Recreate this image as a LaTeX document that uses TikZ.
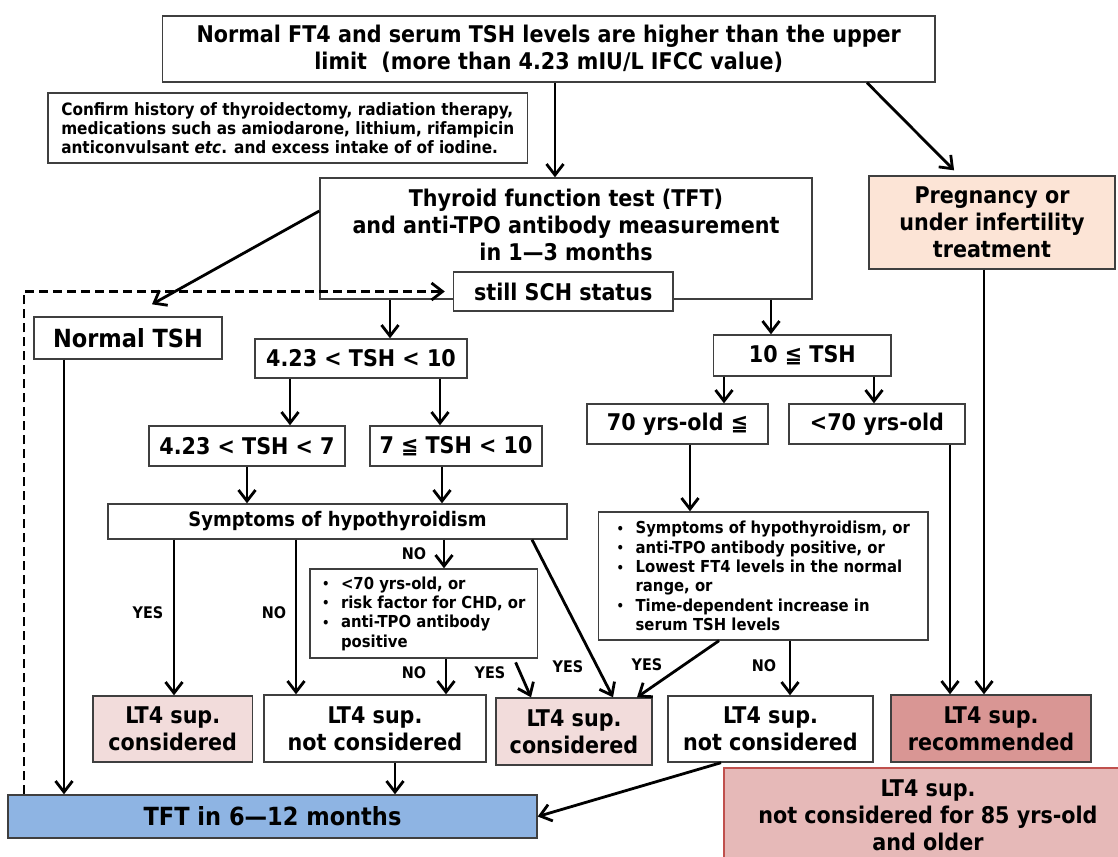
\documentclass[tikz,border=0pt]{standalone}
\usepackage{fontspec}
\setmainfont{DejaVu Sans Condensed}
\usetikzlibrary{arrows.meta,positioning}

\definecolor{boxline}{HTML}{3F3F3F}
\definecolor{peach}{HTML}{FCE4D6}
\definecolor{pinklight}{HTML}{F2DCDB}
\definecolor{pinkmid}{HTML}{E6B9B8}
\definecolor{pinkdark}{HTML}{D99694}
\definecolor{redline}{HTML}{C0504D}
\definecolor{tftblue}{HTML}{8EB4E3}

\newcommand{\fshuge}{\fontsize{25}{29}\selectfont}
\newcommand{\fsbig}{\fontsize{23}{27}\selectfont}
\newcommand{\fsmid}{\fontsize{20}{23}\selectfont}
\newcommand{\fssmall}{\fontsize{16.5}{19.3}\selectfont}
\newcommand{\itm}{\makebox[19pt][l]{\raisebox{0.5pt}{\fontsize{13}{13}\selectfont •}}}
\newcommand{\itmind}{\hspace*{19pt}}

\begin{document}
\begin{tikzpicture}[
    x=1pt, y=-1pt,
    box/.style={draw=boxline, line width=1.4pt, align=center, inner sep=0pt,
        fill=white, font=\bfseries\fsbig},
    arr/.style={line width=2.8pt,
        -{Straight Barb[length=11pt,width=17pt,line width=2.8pt]}},
    dasharr/.style={arr, dash pattern=on 9pt off 5pt},
    lab/.style={font=\bfseries\fontsize{16}{18}\selectfont},
 ]
    \useasboundingbox (0,0) rectangle (1118,856);

    % columns for the vertical connectors
    \foreach \c in {24,64,174,247,290,296,390,395,440,442,444,446,514,531,
        532,555,613,637,690,719,721,724,771,790,867,874,950,959,984}
        \coordinate (v\c) at (\c,0);

    \node[box, minimum width=772.5, minimum height=66] (title) at (548.75,49)
        {Normal FT4 and serum TSH levels are higher than the upper\\
         limit\ \ (more than 4.23 mIU/L IFCC value)};
    \node[box, minimum width=479.5, minimum height=70, align=left,
        font=\bfseries\fontsize{17}{19.3}\selectfont] (confirm) at (287.75,128)
        {Confirm history of thyroidectomy, radiation therapy,\\
         medications such as amiodarone, lithium, rifampicin\\
         anticonvulsant \textit{etc}. and excess intake of of iodine.};

    \node[box, minimum width=492, minimum height=121] (tft) at (566,238.5) {};
    \node[font=\bfseries\fsbig, align=center] (tfttext) at (566,225)
        {Thyroid function test (TFT)\\
         and anti-TPO antibody measurement\\
         in 1—3 months};
    \node[box, minimum width=219.5, minimum height=39] (still) at (563.25,291.5)
        {still SCH status};
    \node[box, fill=peach, minimum width=246, minimum height=93] (preg) at (992,222.5)
        {Pregnancy or\\ under infertility\\ treatment};

    \node[box, font=\bfseries\fshuge, minimum width=188, minimum height=42]
        (normal) at (128,338) {Normal TSH};
    \node[box, minimum width=212, minimum height=39] (mid) at (361,358.5)
        {4.23 < TSH < 10};
    \node[box, minimum width=196, minimum height=40] (low) at (247,446)
        {4.23 < TSH < 7};
    \node[box, minimum width=172, minimum height=40] (hi) at (456,446)
        {7 ≦ TSH < 10};
    \node[box, font=\bfseries\fsmid, minimum width=459, minimum height=35]
        (symp) at (337.5,521.5) {Symptoms of hypothyroidism};
    \node[box, font=\bfseries\fssmall, align=left, minimum width=227.5,
        minimum height=89] (list1) at (423.75,613.5)
        {\itm <70 yrs-old, or\\
         \itm risk factor for CHD, or\\
         \itm anti-TPO antibody\\
         \itmind positive};

    \node[box, minimum width=177.4, minimum height=41] (high) at (802.3,355.5)
        {10 ≦ TSH};
    \node[box, minimum width=181, minimum height=40] (old) at (677.5,424)
        {70 yrs-old ≦};
    \node[box, minimum width=176, minimum height=40] (young) at (877,424)
        {<70 yrs-old};
    \node[box, font=\bfseries\fssmall, align=left, minimum width=329.4,
        minimum height=128] (list2) at (763.3,576)
        {\itm Symptoms of hypothyroidism, or\\
         \itm anti-TPO antibody positive, or\\
         \itm Lowest FT4 levels in the normal\\
         \itmind range, or\\
         \itm Time-dependent increase in\\
         \itmind serum TSH levels};

    \node[box, fill=pinklight, minimum width=159.5, minimum height=66]
        (consA) at (172.75,729) {LT4 sup.\\ considered};
    \node[box, minimum width=222, minimum height=67] (notA) at (375,728.5)
        {LT4 sup.\\ not considered};
    \node[box, fill=pinklight, minimum width=156, minimum height=67]
        (consB) at (574,731.5) {LT4 sup.\\ considered};
    \node[box, minimum width=205, minimum height=66] (notB) at (770.5,729)
        {LT4 sup.\\ not considered};
    \node[box, fill=pinkdark, minimum width=200, minimum height=67]
        (rec) at (991,728.5) {LT4 sup.\\ recommended};
    \node[box, draw=redline, fill=pinkmid, minimum width=408, minimum height=94]
        (old85) at (928,815) {LT4 sup.\\ not considered for 85 yrs-old\\ and older};
    \node[box, fill=tftblue, font=\bfseries\fshuge, minimum width=529,
        minimum height=43] (tftB) at (272.5,816.5) {TFT in 6—12 months};

    \draw[arr] (title.south -| v555) -- (tft.north -| v555);
    \draw[arr, shorten >=7pt] (title.south -| v867) -- (preg.north -| v959);
    \draw[arr] ([yshift=27.5pt]tft.west) -- ([xshift=24pt,yshift=12pt]normal.north);
    \draw[dasharr, shorten >=8pt] (tftB.north -| v24) |- (still.west);
    \draw[arr] (normal.south -| v64) -- (tftB.north -| v64);

    \draw[arr] (tft.south -| v390) -- (mid.north -| v390);
    \draw[arr] (mid.south -| v290) -- (low.north -| v290);
    \draw[arr] (mid.south -| v440) -- (hi.north -| v440);
    \draw[arr] (low.south -| v247) -- (symp.north -| v247);
    \draw[arr] (hi.south -| v442) -- (symp.north -| v442);
    \draw[arr] (symp.south -| v174) -- (consA.north -| v174);
    \draw[arr] (symp.south -| v296) -- (notA.north -| v296);
    \draw[arr] (symp.south -| v444) -- (list1.north -| v444);
    \draw[arr] (symp.south -| v532) -- (consB.north -| v613);
    \draw[arr] (list1.south -| v446) -- (notA.north -| v446);
    \draw[arr, shorten <=4pt] (list1.south -| v514) -- (consB.north -| v531);
    \draw[arr] (notA.south -| v395) -- (tftB.north -| v395);

    \draw[arr] (tft.south -| v771) -- (high.north -| v771);
    \draw[arr] (high.south -| v724) -- (old.north -| v724);
    \draw[arr] (high.south -| v874) -- (young.north -| v874);
    \draw[arr] (old.south -| v690) -- (list2.north -| v690);
    \draw[arr] (list2.south -| v719) -- (consB.north -| v637);
    \draw[arr] (list2.south -| v790) -- (notB.north -| v790);
    \draw[arr] (notB.south -| v721) -- (tftB.east);
    \draw[arr] (young.south -| v950) -- (rec.north -| v950);
    \draw[arr] (preg.south -| v984) -- (rec.north -| v984);

    \node[lab] (yesA) at (148,613) {YES};
    \node[lab] (noA) at (274,613) {NO};
    \node[lab] (noB) at (414,554) {NO};
    \node[lab] (noC) at (414,673) {NO};
    \node[lab] (yesB) at (490,673) {YES};
    \node[lab] (yesC) at (568,667) {YES};
    \node[lab] (yesD) at (647,665) {YES};
    \node[lab] (noD) at (764,666) {NO};
\end{tikzpicture}
\end{document}
